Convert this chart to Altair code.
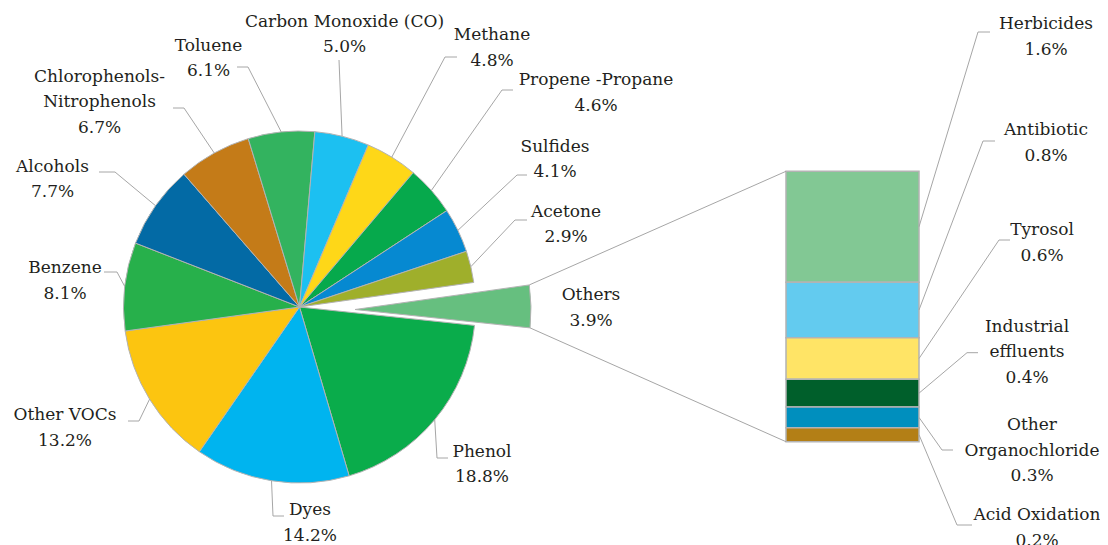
import math
import altair as alt
import pandas as pd

# ---------------- data ----------------
pie_names = ["Phenol", "Dyes", "Other VOCs", "Benzene", "Alcohols",
             "Chlorophenols-\nNitrophenols", "Toluene", "Carbon Monoxide (CO)",
             "Methane", "Propene -Propane", "Sulfides", "Acetone", "Others"]
pie_values = [18.8, 14.2, 13.2, 8.1, 7.7, 6.7, 6.1, 5.0, 4.8, 4.6, 4.1, 2.9, 3.9]

bar_names = ["Herbicides", "Antibiotic", "Tyrosol", "Industrial\neffluents",
             "Other\nOrganochloride", "Acid Oxidation"]
bar_values = [1.6, 0.8, 0.6, 0.4, 0.3, 0.2]

# ---------------- styles ----------------
pie_colors = ["#0aac4b", "#00b4ef", "#fcc510", "#27b04b", "#036aa5", "#c47b18",
              "#33b35f", "#1cc0f1", "#fed718", "#06a94c", "#0689d1", "#9faf2b", "#66bf7f"]
bar_colors = ["#82c894", "#63cbef", "#ffe466", "#005f2b", "#008fbe", "#b37f16"]
TEXT_COLOR = "#231f20"
LINE_COLOR = "#a6a6a6"
EDGE_COLOR = "#b3b3b3"
FONT = "DejaVu Serif"
FONT_SIZE = 17

# ---------------- layout (page pixels) ----------------
W, H, M = 1092, 537, 8
CX, CY, R = 299.5, 307.0, 176.0
START_DEG = 96.0
EXPLODED_CENTER = (355.0, 309.5)
BAR_X0, BAR_X1, BAR_Y0, BAR_Y1 = 786.0, 919.0, 171.3, 441.7

# (centre x, y of the first text line)
pie_label_pos = [(482, 451.7), (310, 510), (65, 415), (65, 268.3), (52.5, 166.7),
                 (99.5, 76.7), (208.5, 45.5), (344.5, 21.7), (492, 35), (596, 80),
                 (555, 146.7), (566, 211.7), (591, 295)]
pie_leader = [((448, 458), (437, 458)), ((284, 516), (273, 516)),
              ((128, 421), (139, 421)), ((104, 272), (117, 272)),
              ((99, 172), (115, 172)), ((173, 108), (184, 108)),
              ((237, 67), (248, 67)), ((339, 60), (339, 60)),
              ((457, 57), (445, 57)), ((513, 90), (502, 90)),
              ((527, 175), (517, 175)), ((527, 220), (515, 220)), None]
bar_label_pos = [(1046, 24), (1046, 130), (1042, 230), (1027, 326.7),
                 (1032, 425), (1037, 515)]
bar_leader = [((990, 32), (978, 32)), ((995, 141), (983, 141)),
              ((1010, 240), (999, 240)), ((978, 352.7), (967, 352.7)),
              ((953, 450), (942, 450)), ((972, 525), (957, 525))]

# ---------------- derived tables ----------------
total = sum(pie_values)
cum = 0.0
pie_rows = []
for n, v, c in zip(pie_names, pie_values, pie_colors):
    pie_rows.append({"name": n, "start": cum, "end": cum + v, "color": c, "value": v})
    cum += v
pie_df = pd.DataFrame(pie_rows)


def polar(cx, cy, r, val):
    a = math.radians(START_DEG) + val / total * 2 * math.pi
    return cx + r * math.sin(a), cy - r * math.cos(a)


bar_total = sum(bar_values)
k = (BAR_Y1 - BAR_Y0) / bar_total
cum = 0.0
bar_rows = []
for n, v, c in zip(bar_names, bar_values, bar_colors):
    bar_rows.append({"name": n, "b0": cum, "b1": cum + v, "color": c})
    cum += v
bar_df = pd.DataFrame(bar_rows)

line_rows = []
text_rows = []
lid = 0
for row, pos, ld in zip(pie_rows, pie_label_pos, pie_leader):
    text_rows.append({"x": pos[0], "y": pos[1], "t": f"{row['name']}\n{row['value']:.1f}%"})
    if ld is None:
        continue
    ex, ey = polar(CX, CY, R, (row["start"] + row["end"]) / 2)
    for j, (px, py) in enumerate([ld[0], ld[1], (ex, ey)]):
        line_rows.append({"id": lid, "k": j, "x": px, "y": py})
    lid += 1

for row, v, pos, ld in zip(bar_rows, bar_values, bar_label_pos, bar_leader):
    text_rows.append({"x": pos[0], "y": pos[1], "t": f"{row['name']}\n{v:.1f}%"})
    ey = BAR_Y0 + (row["b0"] + row["b1"]) / 2 * k
    for j, (px, py) in enumerate([ld[0], ld[1], (BAR_X1, ey)]):
        line_rows.append({"id": lid, "k": j, "x": px, "y": py})
    lid += 1

# connectors from exploded slice to the bar
oth = pie_rows[-1]
ux, uy = polar(EXPLODED_CENTER[0], EXPLODED_CENTER[1], R, oth["start"])
lx, ly = polar(EXPLODED_CENTER[0], EXPLODED_CENTER[1], R, oth["end"])
for j, (px, py) in enumerate([(ux, uy), (BAR_X0, BAR_Y0)]):
    line_rows.append({"id": lid, "k": j, "x": px, "y": py})
lid += 1
for j, (px, py) in enumerate([(lx, ly), (BAR_X0, BAR_Y1)]):
    line_rows.append({"id": lid, "k": j, "x": px, "y": py})
lid += 1

line_df = pd.DataFrame(line_rows)
text_df = pd.DataFrame(text_rows)

# ---------------- scales ----------------
theta_scale = alt.Scale(domain=[0, total],
                        range=[math.radians(START_DEG), math.radians(START_DEG) + 2 * math.pi])
px_x = alt.Scale(domain=[M, M + W], nice=False, zero=False)
px_y = alt.Scale(domain=[M, M + H], reverse=True, nice=False, zero=False)

pie_main = alt.Chart(pie_df).transform_filter(alt.datum.name != "Others").mark_arc(
    outerRadius=R, stroke=EDGE_COLOR, strokeWidth=1
).encode(
    theta=alt.Theta("start:Q", scale=theta_scale),
    theta2="end:Q",
    color=alt.Color("color:N", scale=None),
    x=alt.value(CX - M), y=alt.value(CY - M),
)

pie_others = alt.Chart(pie_df).transform_filter(alt.datum.name == "Others").mark_arc(
    outerRadius=R, stroke=EDGE_COLOR, strokeWidth=1
).encode(
    theta=alt.Theta("start:Q", scale=theta_scale),
    theta2="end:Q",
    color=alt.Color("color:N", scale=None),
    x=alt.value(EXPLODED_CENTER[0] - M), y=alt.value(EXPLODED_CENTER[1] - M),
)

bar = alt.Chart(bar_df).mark_rect(stroke=EDGE_COLOR, strokeWidth=1.5).encode(
    y=alt.Y("b0:Q", scale=alt.Scale(domain=[0, bar_total], range=[BAR_Y0 - M, BAR_Y1 - M],
                                      nice=False, zero=False), axis=None),
    y2="b1:Q",
    x=alt.value(BAR_X0 - M), x2=alt.value(BAR_X1 - M),
    color=alt.Color("color:N", scale=None),
)

lines = alt.Chart(line_df).mark_line(color=LINE_COLOR, strokeWidth=1).encode(
    x=alt.X("x:Q", scale=px_x, axis=None),
    y=alt.Y("y:Q", scale=px_y, axis=None),
    detail="id:N",
    order="k:Q",
)

texts = alt.Chart(text_df).mark_text(
    font=FONT, fontSize=FONT_SIZE, lineBreak="\n", lineHeight=25.5, color=TEXT_COLOR,
    align="center", baseline="middle"
).encode(
    x=alt.X("x:Q", scale=px_x, axis=None),
    y=alt.Y("y:Q", scale=px_y, axis=None),
    text="t:N",
)

chart = alt.layer(pie_main, pie_others, bar, lines, texts).resolve_scale(
    y="independent"
).properties(
    width=W, height=H, padding=0, autosize="none", background="white"
).configure_view(stroke=None)

chart.save("out.html", embed_options={"renderer": "svg", "actions": False})
